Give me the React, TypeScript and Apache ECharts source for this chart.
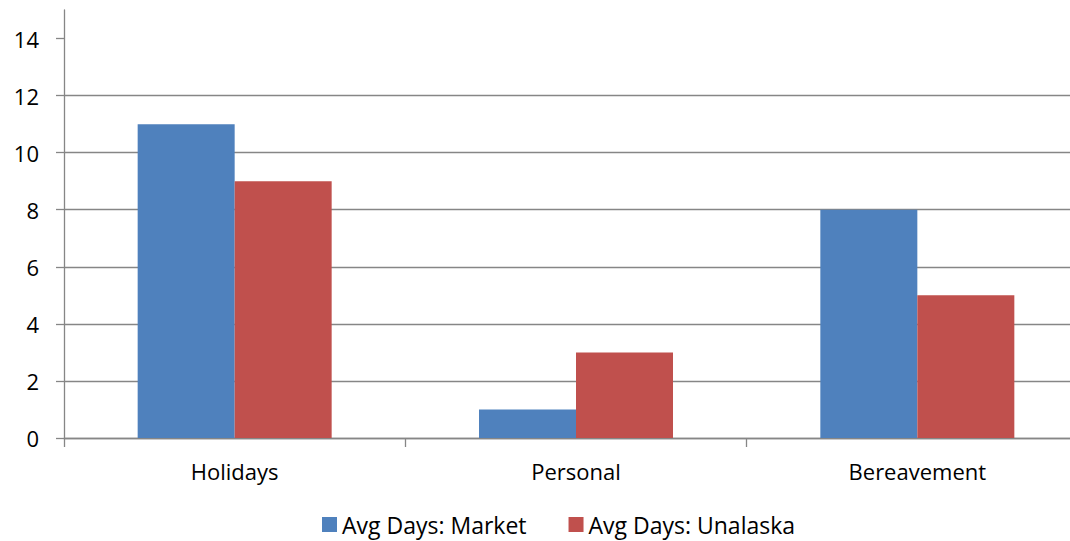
import React, { useEffect, useRef } from "react";
import * as echarts from "echarts";

// Leave types on the category axis
const categories = ["Holidays", "Personal", "Bereavement"];

// Average days per leave type
const marketDays = [11, 1, 8];
const unalaskaDays = [9, 3, 5];

// Value-axis tick labels
const yTicks = [0, 2, 4, 6, 8, 10, 12, 14];
const yMax = 15;

const seriesNames = ["Avg Days: Market", "Avg Days: Unalaska"];
const seriesColors = ["#4F81BD", "#C0504D"];

const FONT = "'Open Sans', 'Noto Sans', sans-serif";
const GRID_GRAY = "#868686";

export default function App() {
  const ref = useRef<HTMLDivElement>(null);

  useEffect(() => {
    if (!ref.current) return;
    const chart = echarts.init(ref.current, null, { renderer: "svg" });
    chart.setOption({
      animation: false,
      backgroundColor: "#ffffff",
      textStyle: { fontFamily: FONT },
      // the plot area runs past the visible frame on the right
      grid: { left: 64, right: 0, top: 10, bottom: 103, containLabel: false },
      legend: {
        left: 322,
        top: 513,
        icon: "rect",
        itemWidth: 15,
        itemHeight: 15,
        itemGap: 42,
        padding: 0,
        textStyle: { fontFamily: FONT, fontSize: 23, color: "#000", lineHeight: 23 },
        data: seriesNames,
      },
      xAxis: {
        type: "category",
        data: categories,
        boundaryGap: true,
        axisLine: { show: true, lineStyle: { color: GRID_GRAY, width: 1.3 } },
        axisTick: { show: true, length: 9, lineStyle: { color: GRID_GRAY, width: 1.3 } },
        axisLabel: {
          fontFamily: FONT,
          fontSize: 22,
          color: "#000",
          margin: 22,
          lineHeight: 22,
        },
        splitLine: { show: false },
      },
      yAxis: {
        type: "value",
        min: 0,
        max: yMax,
        interval: 2,
        axisLine: { show: true, lineStyle: { color: GRID_GRAY, width: 1.3 } },
        axisTick: {
          show: true,
          length: 8,
          customValues: yTicks,
          lineStyle: { color: GRID_GRAY, width: 1.3 },
        },
        axisLabel: {
          fontFamily: FONT,
          fontSize: 22,
          color: "#000",
          margin: 25,
          customValues: yTicks,
        },
        splitLine: {
          show: true,
          showMaxLine: false,
          lineStyle: { color: GRID_GRAY, width: 1.3 },
        },
      },
      series: [
        {
          name: seriesNames[0],
          type: "bar",
          data: marketDays,
          barWidth: 97,
          barGap: "0%",
          itemStyle: { color: seriesColors[0] },
        },
        {
          name: seriesNames[1],
          type: "bar",
          data: unalaskaDays,
          barWidth: 97,
          barGap: "0%",
          itemStyle: { color: seriesColors[1] },
        },
      ],
    });
    return () => chart.dispose();
  }, []);

  return (
    <div
      style={{
        position: "absolute",
        left: 0,
        top: 0,
        width: 1070,
        height: 541,
        overflow: "hidden",
        background: "#fff",
      }}
    >
      <div ref={ref} style={{ width: 1088, height: 541 }} />
    </div>
  );
}
